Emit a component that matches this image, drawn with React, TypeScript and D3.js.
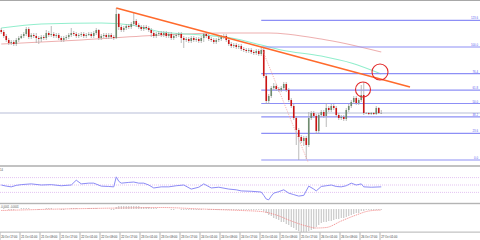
import React from "react";
import * as d3 from "d3";

// ---------- DATA ----------
const firstOpen = 1.098;
const closes = [
  1.0978,1.0974,1.0970,1.0967,1.0968,1.0966,1.0970,1.0972,1.0974,1.0976,
  1.0981,1.0973,1.0975,1.0974,1.0972,1.0971,1.0973,1.0972,1.0977,1.0975,
  1.0976,1.0974,1.0975,1.0972,1.0970,1.0972,1.0973,1.0975,1.0977,1.0976,
  1.0974,1.0975,1.0976,1.0974,1.0975,1.0976,1.0974,1.0977,1.0980,1.0972,
  1.0974,1.0975,1.0973,1.0975,1.0973,1.0972,1.0996,1.0983,1.0980,1.0982,
  1.0984,1.0983,1.0986,1.0989,1.0985,1.0983,1.0981,1.0983,1.0982,1.0980,
  1.0977,1.0974,1.0976,1.0977,1.0975,1.0977,1.0974,1.0976,1.0972,1.0974,
  1.0975,1.0976,1.0972,1.0970,1.0971,1.0969,1.0972,1.0970,1.0971,1.0969,
  1.0972,1.0976,1.0974,1.0971,1.0970,1.0968,1.0970,1.0971,1.0973,1.0974,
  1.0970,1.0966,1.0964,1.0965,1.0963,1.0964,1.0961,1.0960,1.0959,1.0960,
  1.0958,1.0957,1.0959,1.0956,1.0960,1.0934,1.0909,1.0914,1.0922,1.0924,
  1.0921,1.0920,1.0922,1.0926,1.0920,1.0910,1.0904,1.0892,1.0880,1.0873,
  1.0869,1.0872,1.0865,1.0892,1.0897,1.0894,1.0879,1.0895,1.0898,1.0894,
  1.0902,1.0900,1.0904,1.0902,1.0895,1.0892,1.0893,1.0891,1.0900,1.0904,
  1.0908,1.0912,1.0907,1.0910,1.0915,1.0897,1.0897,1.0896,1.0897,1.0896,
  1.0902,1.0897,1.0897,
];
const highs = [
  1.0982,1.0980,1.0976,1.0972,1.0970,1.0970,1.0972,1.0974,1.0976,1.0978,
  1.0983,1.0983,1.0977,1.0977,1.0977,1.0974,1.0975,1.0975,1.0980,1.0979,
  1.0984,1.0978,1.0977,1.0977,1.0974,1.0974,1.0975,1.0977,1.0982,1.0979,
  1.0978,1.0977,1.0978,1.0978,1.0977,1.0978,1.0978,1.0979,1.0982,1.0981,
  1.0976,1.0977,1.0977,1.0977,1.0977,1.0975,1.1002,1.0997,1.0985,1.0984,
  1.0986,1.0986,1.0988,1.0998,1.0991,1.0987,1.0985,1.0985,1.0985,1.0984,
  1.0982,1.0979,1.0978,1.0979,1.0979,1.0979,1.0979,1.0978,1.0978,1.0976,
  1.0977,1.0978,1.0978,1.0974,1.0973,1.0973,1.0974,1.0974,1.0973,1.0973,
  1.0974,1.0977,1.0978,1.0976,1.0973,1.0972,1.0972,1.0973,1.0975,1.0976,
  1.0976,1.0972,1.0968,1.0967,1.0967,1.0966,1.0966,1.0963,1.0962,1.0962,
  1.0962,1.0960,1.0961,1.0961,1.0963,1.0963,1.0936,1.0916,1.0924,1.0927,
  1.0926,1.0923,1.0924,1.0928,1.0928,1.0922,1.0912,1.0906,1.0894,1.0882,
  1.0875,1.0874,1.0874,1.0898,1.0899,1.0899,1.0896,1.0897,1.0900,1.0900,
  1.0907,1.0904,1.0906,1.0906,1.0904,1.0897,1.0895,1.0895,1.0902,1.0906,
  1.0910,1.0914,1.0914,1.0912,1.0925,1.0928,1.0898,1.0898,1.0898,1.0898,
  1.0904,1.0903,1.0900,
];
const lows = [
  1.0976,1.0972,1.0968,1.0965,1.0965,1.0964,1.0964,1.0968,1.0971,1.0972,
  1.0974,1.0971,1.0971,1.0972,1.0967,1.0966,1.0968,1.0970,1.0970,1.0973,
  1.0973,1.0972,1.0972,1.0970,1.0968,1.0968,1.0970,1.0971,1.0973,1.0974,
  1.0972,1.0972,1.0973,1.0972,1.0972,1.0974,1.0972,1.0972,1.0975,1.0970,
  1.0970,1.0972,1.0971,1.0971,1.0971,1.0970,1.0971,1.0980,1.0978,1.0978,
  1.0980,1.0981,1.0981,1.0984,1.0983,1.0981,1.0979,1.0979,1.0980,1.0978,
  1.0973,1.0972,1.0972,1.0974,1.0973,1.0973,1.0972,1.0972,1.0970,1.0970,
  1.0972,1.0973,1.0967,1.0962,1.0968,1.0967,1.0967,1.0968,1.0968,1.0967,
  1.0967,1.0968,1.0972,1.0969,1.0968,1.0966,1.0966,1.0968,1.0969,1.0971,
  1.0968,1.0964,1.0962,1.0962,1.0961,1.0961,1.0959,1.0958,1.0957,1.0957,
  1.0956,1.0955,1.0955,1.0954,1.0954,1.0932,1.0906,1.0906,1.0912,1.0920,
  1.0919,1.0918,1.0918,1.0920,1.0918,1.0908,1.0902,1.0890,1.0865,1.0850,
  1.0867,1.0864,1.0851,1.0863,1.0890,1.0892,1.0876,1.0877,1.0893,1.0892,
  1.0883,1.0898,1.0898,1.0900,1.0893,1.0890,1.0890,1.0889,1.0889,1.0898,
  1.0902,1.0906,1.0905,1.0905,1.0908,1.0895,1.0896,1.0895,1.0895,1.0895,
  1.0895,1.0896,1.0896,
];
const lastPrice = 1.0897;

const fibLevels = [0, 23.6, 38.2, 50, 61.8, 76.4, 100, 123.6];
const fibLabels = ["0.0", "23.6", "38.2", "50.0", "61.8", "76.4", "100.0", "123.6"];
const fibLow = 1.085;
const fibHigh = 1.0963;
const fibStartIndex = 104;

const maFast: [number, number][] = [
  [0, 1.0982], [16, 1.0986], [40, 1.0987], [52, 1.0985], [64, 1.0978], [80, 1.0975],
  [92, 1.0972], [104, 1.0965], [112, 1.096], [128, 1.0954], [140, 1.0947], [152, 1.0936],
];
const maSlow: [number, number][] = [
  [0, 1.0966], [32, 1.097], [64, 1.0975], [88, 1.0977], [107, 1.0977], [128, 1.0971], [152, 1.0958],
];

const trendLine: [number, number][] = [[46, 1.1002], [163.5, 1.0923]];
const dropLine: [number, number][] = [[104, 1.0963], [122.7, 1.0848]];
const circles: [number, number, number][] = [[151.5, 1.0938, 8], [144.7, 1.09205, 7.5]];

const rsiPoints: [number, number][] = [
  [0,50],[2,47],[4,45],[6,49],[8,51],[12,53],[16,50],[20,51],[24,48],[28,50],[30,63],[32,53],
  [35,55],[37,55],[40,47],[43,46],[45,45],[46,72],[47,60],[48,55],[51,57],[53,58],[55,55],
  [57,55],[59,50],[61,42],[64,45],[67,45],[70,48],[73,50],[76,39],[79,44],[81,53],[84,42],
  [87,44],[91,39],[94,37],[96,34],[100,33],[104,31],[105,22],[106,12],[107,10],[108,20],
  [109,28],[111,32],[113,37],[115,28],[117,24],[119,20],[121,22],[123,47],[125,39],[126,34],
  [128,46],[130,48],[132,50],[134,46],[136,45],[138,48],[140,55],[142,50],[144,53],[145,45],
  [148,44],[152,45],
];
const rsiLevels = [70, 50, 30];

const macdHist = [
  0,0.0001,0,-0.0001,-0.0001,-0.0001,0,0,0.0001,0.0001,
  0.0001,0.0001,0,0,0,-0.0001,0,0,0.0001,0.0001,
  0.0001,0,0,0,-0.0001,-0.0001,0,0,0.0001,0.0001,
  0.0001,0,0,0,0,0.0001,0.0001,0.0001,0.0001,0,
  0,0,0,0,-0.0001,-0.0001,0.0002,0.0003,0.0003,0.0003,
  0.0003,0.0003,0.0003,0.0003,0.0003,0.0003,0.0002,0.0002,0.0002,0.0002,
  0.0001,0.0001,0.0001,0,0,0,0,0,-0.0001,-0.0001,
  0,0,-0.0001,-0.0001,-0.0001,-0.0001,-0.0001,-0.0001,-0.0001,-0.0001,
  -0.0001,0,0,-0.0001,-0.0001,-0.0001,-0.0001,-0.0001,-0.0001,-0.0001,
  -0.0001,-0.0001,-0.0001,-0.0001,-0.0001,-0.0001,-0.0001,-0.0001,-0.0001,-0.0001,
  -0.0001,-0.0001,-0.0001,-0.0001,-0.0001,
  -0.0002,-0.0004,-0.0006,-0.0007,-0.0009,-0.001,-0.0011,-0.0013,-0.0013,-0.0015,
  -0.0016,-0.0018,-0.0019,-0.0021,-0.0022,-0.0023,-0.0023,-0.0023,-0.0022,-0.0021,
  -0.002,-0.0018,-0.0016,-0.0014,-0.0013,-0.0013,-0.0012,-0.0012,-0.0011,-0.001,
  -0.001,-0.0009,-0.0009,-0.0008,-0.0007,-0.0006,-0.0005,-0.0004,-0.0004,-0.0002,
  -0.0002,-0.0001,-0.0001,-0.0001,-0.0001,-0.0001,-0.0001,-0.0001,
];
const macdSignal: [number, number][] = [
  [0,-0.00015],[24,0],[48,0.0001],[64,0.00015],[80,0],[96,-0.00015],[104,-0.00025],
  [110,-0.0006],[116,-0.0012],[122,-0.0017],[126,-0.0019],[130,-0.00185],[136,-0.0012],
  [142,-0.0006],[147,-0.0002],[152,-0.0001],
];
const macdText = "-0.0001 -0.0001";

const timeLabels = [
  "20 Oct 17:00","21 Oct 01:00","21 Oct 09:00","21 Oct 17:00","22 Oct 01:00","22 Oct 09:00",
  "22 Oct 17:00","23 Oct 01:00","23 Oct 09:00","23 Oct 17:00","24 Oct 01:00","24 Oct 09:00",
  "24 Oct 17:00","25 Oct 01:00","25 Oct 09:00","25 Oct 17:00","26 Oct 01:00","26 Oct 09:00",
  "26 Oct 17:00","27 Oct 01:00",
];
const barsPerLabel = 8;

// ---------- CHART ----------
const W = 480;
const H = 240;

export default function App() {
  const n = closes.length;
  const x = d3.scaleLinear().domain([0, n - 1]).range([1.25, 1.25 + 2.5 * (n - 1)]);
  const y = d3.scaleLinear().domain([1.0845, 1.1008]).range([165, 2]);
  const yR = d3.scaleLinear().domain([0, 100]).range([203.5, 166.5]);
  const yM = d3.scaleLinear().domain([-0.0024, 0.0005]).range([233, 204]);

  const candles = closes.map((c, i) => ({
    i,
    o: i === 0 ? firstOpen : closes[i - 1],
    c,
    h: highs[i],
    l: lows[i],
  }));

  const maLine = d3
    .line<[number, number]>()
    .x((d) => x(d[0]))
    .y((d) => y(d[1]))
    .curve(d3.curveMonotoneX);
  const rsiLine = d3
    .line<[number, number]>()
    .x((d) => x(d[0]))
    .y((d) => yR(d[1]));
  const sigLine = d3
    .line<[number, number]>()
    .x((d) => x(d[0]))
    .y((d) => yM(d[1]))
    .curve(d3.curveMonotoneX);

  const fib = fibLevels.map((lv, k) => ({
    lv,
    label: fibLabels[k],
    yy: y(fibLow + (lv / 100) * (fibHigh - fibLow)),
  }));

  const font = "'Liberation Sans', Arial, sans-serif";

  return (
    <svg
      width={W}
      height={H}
      style={{ position: "absolute", left: 0, top: 0, background: "#fff" }}
      fontFamily={font}
    >
      <rect x={0} y={0} width={W} height={H} fill="#ffffff" />
      {/* top border */}
      <line x1={0} x2={W} y1={0.5} y2={0.5} stroke="#a8a8a8" strokeWidth={1.2} />

      {/* current price line */}
      <line x1={0} x2={W} y1={y(lastPrice)} y2={y(lastPrice)} stroke="#cfd3e4" strokeWidth={1.4} />

      {/* moving averages */}
      <path d={maLine(maSlow) || ""} fill="none" stroke="#eeb0b0" strokeWidth={1.1} />
      <path d={maLine(maFast) || ""} fill="none" stroke="#92eecd" strokeWidth={1.1} />

      {/* fibonacci */}
      {fib.map((f) => (
        <g key={f.lv}>
          <line x1={x(fibStartIndex)} x2={W} y1={f.yy} y2={f.yy} stroke="#8d8ff6" strokeWidth={1.1} />
          <text x={478} y={f.yy - 0.9} fontSize={2.8} fill="#5c5ef0" textAnchor="end">
            {f.label}
          </text>
        </g>
      ))}

      {/* candles */}
      {candles.map((d) => {
        const up = d.c > d.o;
        const top = y(Math.max(d.o, d.c));
        const bot = y(Math.min(d.o, d.c));
        const cx = x(d.i);
        return (
          <g key={d.i}>
            <line x1={cx} x2={cx} y1={y(d.h)} y2={y(d.l)} stroke="#a9a9a9" strokeWidth={0.8} />
            <rect
              x={cx - 0.8}
              y={top}
              width={1.6}
              height={Math.max(0.7, bot - top)}
              fill={d.c === d.o ? "#9a9a9a" : up ? "#6f8c6f" : "#cc1414"}
            />
          </g>
        );
      })}

      {/* trend lines */}
      <line
        x1={x(dropLine[0][0])}
        y1={y(dropLine[0][1])}
        x2={x(dropLine[1][0])}
        y2={y(dropLine[1][1])}
        stroke="#f2a0a0"
        strokeWidth={0.8}
        strokeDasharray="1.2,1.2"
      />
      <line
        x1={x(trendLine[0][0])}
        y1={y(trendLine[0][1])}
        x2={x(trendLine[1][0])}
        y2={y(trendLine[1][1])}
        stroke="#ff6a2c"
        strokeWidth={1.5}
      />
      {circles.map((c, k) => (
        <circle key={k} cx={x(c[0])} cy={y(c[1])} r={c[2]} fill="none" stroke="#e22a2a" strokeWidth={1.1} />
      ))}

      {/* panel separators */}
      <rect x={0} y={165.2} width={W} height={1.6} fill="#b4b4b4" />
      <rect x={0} y={202.8} width={W} height={1.4} fill="#b4b4b4" />
      <rect x={0} y={231.6} width={W} height={1} fill="#b4b4b4" />

      {/* RSI */}
      {rsiLevels.map((lv) => (
        <line
          key={lv}
          x1={0}
          x2={W}
          y1={yR(lv)}
          y2={yR(lv)}
          stroke="#dcb4ee"
          strokeWidth={0.8}
          strokeDasharray="1,1"
        />
      ))}
      <path d={rsiLine(rsiPoints) || ""} fill="none" stroke="#8c8cf6" strokeWidth={1} />
      <text x={0} y={170.5} fontSize={2.6} fill="#444">
        14
      </text>

      {/* MACD */}
      {macdHist.map((v, i) =>
        v === 0 ? null : (
          <line
            key={i}
            x1={x(i)}
            x2={x(i)}
            y1={yM(0)}
            y2={yM(v)}
            stroke="#b8b8b8"
            strokeWidth={0.9}
          />
        )
      )}
      <path
        d={sigLine(macdSignal) || ""}
        fill="none"
        stroke="#f28a8a"
        strokeWidth={0.9}
        strokeDasharray="1.2,0.8"
      />
      <text x={0.5} y={208} fontSize={2.6} fill="#555">
        {macdText}
      </text>

      {/* time axis */}
      {timeLabels.map((t, k) => {
        const tx = x(k * barsPerLabel - 0.5);
        return (
          <g key={t}>
            <line x1={tx} x2={tx} y1={232.5} y2={240} stroke="#9a9a9a" strokeWidth={0.7} />
            <text x={tx + 1.2} y={237.8} fontSize={2.8} fill="#333">
              {t}
            </text>
          </g>
        );
      })}
    </svg>
  );
}
